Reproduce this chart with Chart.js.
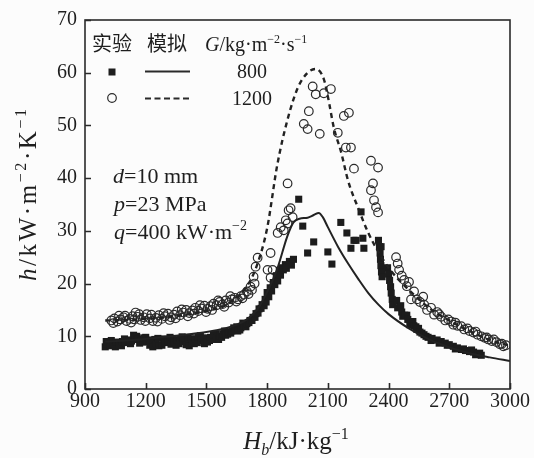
<!DOCTYPE html>
<html>
<head>
<meta charset="utf-8">
<script src="https://cdn.jsdelivr.net/npm/chart.js@4.4.0/dist/chart.umd.min.js"></script>
<style>
  html, body { margin: 0; padding: 0; background: #fcfcfc; }
  canvas { display: block; }
</style>
</head>
<body>
<canvas id="htcChart" width="534" height="458"></canvas>
<script>
// axis ticks
const hbTicks = [900, 1200, 1500, 1800, 2100, 2400, 2700, 3000];
const hTicks = [0, 10, 20, 30, 40, 50, 60, 70];

// legend texts
const legendHeads = ['实验', '模拟'];
const massFluxes = ['800', '1200'];

// simulation, G = 800
const sim800X = [1000, 1100, 1200, 1300, 1400, 1500, 1600, 1650, 1700, 1750, 1800, 1850, 1900, 1930, 1960, 2000, 2030, 2055, 2075, 2100, 2150, 2200, 2250, 2300, 2350, 2400, 2500, 2600, 2700, 2800, 2900, 3000];
const sim800H = [9.0, 9.2, 9.5, 9.9, 10.3, 10.8, 11.6, 12.2, 13.2, 15.0, 18.4, 22.8, 29.0, 31.6, 32.3, 32.5, 33.0, 33.4, 32.6, 30.7, 27.0, 23.8, 20.9, 18.2, 16.0, 14.2, 11.5, 9.4, 7.9, 6.8, 6.0, 5.3];

// simulation, G = 1200
const sim1200X = [1000, 1100, 1200, 1300, 1400, 1500, 1600, 1700, 1750, 1800, 1850, 1900, 1950, 2000, 2040, 2080, 2100, 2130, 2165, 2200, 2250, 2300, 2350, 2400, 2500, 2600, 2700, 2800, 2900, 3000];
const sim1200H = [13.0, 13.1, 13.3, 13.6, 14.1, 14.8, 16.0, 19.5, 23.5, 30.5, 42.5, 51.0, 57.0, 60.0, 60.7, 58.8, 55.5, 49.5, 45.0, 39.5, 34.3, 29.6, 26.0, 23.0, 18.8, 15.4, 13.0, 11.0, 9.3, 8.2];

// experiment, G = 800  [Hb, h]
const exp800 = [
  [1000, 8.0], [1005, 9.0], [1010, 8.6], [1025, 8.2], [1030, 9.2], [1040, 8.5], [1050, 8.0], [1055, 8.9],
  [1070, 8.4], [1080, 8.2], [1085, 9.0], [1095, 9.5], [1100, 8.8], [1115, 9.3], [1125, 8.6], [1130, 9.1],
  [1140, 10.2], [1145, 9.8], [1155, 10.0], [1160, 9.4], [1170, 8.7], [1175, 9.2], [1185, 8.9], [1190, 9.7],
  [1200, 9.8], [1205, 9.0], [1215, 9.3], [1220, 8.3], [1235, 8.0], [1245, 9.4], [1250, 8.6], [1260, 9.6],
  [1265, 8.2], [1280, 8.3], [1290, 9.5], [1295, 8.8], [1310, 9.2], [1320, 9.8], [1325, 8.5], [1335, 9.6],
  [1340, 8.9], [1350, 8.3], [1355, 9.3], [1365, 8.6], [1370, 9.6], [1380, 9.9], [1385, 9.0], [1395, 9.6],
  [1400, 8.4], [1410, 9.8], [1415, 8.2], [1425, 9.5], [1430, 8.8], [1440, 8.6], [1445, 9.5], [1455, 8.8],
  [1460, 9.9], [1470, 10.1], [1475, 9.2], [1485, 9.7], [1490, 8.6], [1500, 9.6], [1505, 8.9], [1515, 9.2],
  [1520, 9.8], [1530, 9.4], [1535, 10.3], [1545, 10.5], [1550, 9.6], [1560, 9.4], [1565, 10.0], [1575, 9.8],
  [1580, 10.5], [1590, 11.0], [1595, 10.2], [1605, 10.4], [1610, 10.8], [1620, 10.6], [1625, 11.0], [1635, 11.6],
  [1640, 11.3], [1650, 11.8], [1655, 11.0], [1665, 11.2], [1670, 11.6], [1680, 12.5], [1685, 12.0], [1695, 11.8],
  [1700, 12.4], [1710, 12.6], [1715, 13.0], [1725, 13.0], [1730, 13.6], [1740, 13.6], [1745, 14.3], [1755, 14.4],
  [1760, 15.2], [1770, 15.3], [1775, 16.0], [1785, 15.8], [1790, 17.0], [1795, 16.5], [1800, 18.3], [1808, 17.5],
  [1815, 19.2], [1822, 18.6], [1830, 20.2], [1838, 19.8], [1845, 21.5], [1852, 20.5], [1860, 22.5], [1866, 21.6],
  [1875, 23.0], [1880, 22.6], [1890, 23.6], [1895, 22.9], [1910, 24.2], [1920, 23.5], [1930, 24.6],
  [1956, 36.0], [1976, 30.9], [2000, 25.8], [2030, 27.9], [2100, 26.0], [2120, 23.7], [2164, 31.6], [2194, 29.6],
  [2214, 26.7], [2229, 28.2], [2239, 28.2], [2264, 33.6], [2273, 28.6], [2278, 26.7],
  [2350, 28.2], [2355, 27.0], [2358, 25.8], [2360, 24.6], [2362, 23.4], [2363, 27.0], [2365, 22.2], [2368, 21.3],
  [2395, 23.0], [2400, 21.8], [2405, 20.6], [2410, 19.4], [2413, 18.2], [2418, 17.0], [2420, 16.0],
  [2440, 16.8], [2445, 15.4], [2455, 15.6], [2460, 15.8], [2465, 14.6], [2470, 13.8], [2480, 14.0], [2490, 14.0],
  [2495, 13.2], [2505, 12.2], [2510, 12.6], [2520, 12.8], [2525, 12.0], [2535, 11.8], [2540, 11.3], [2548, 11.5],
  [2555, 10.8], [2565, 10.6], [2575, 10.3], [2585, 10.0], [2595, 9.8], [2610, 9.2], [2615, 9.6], [2640, 9.3],
  [2650, 8.7], [2660, 9.0], [2680, 8.7], [2690, 8.3], [2700, 8.4], [2720, 8.1], [2730, 7.6], [2740, 7.8],
  [2760, 7.5], [2770, 7.6], [2780, 7.3], [2800, 7.1], [2810, 7.4], [2820, 7.0], [2830, 6.5], [2840, 6.7],
  [2850, 6.8], [2858, 6.4]
];

// experiment, G = 1200  [Hb, h]
const exp1200 = [
  [1030, 13.0], [1040, 12.5], [1045, 13.4], [1060, 12.8], [1068, 13.9], [1075, 13.2], [1090, 13.6], [1098, 13.9],
  [1105, 12.9], [1120, 13.3], [1128, 12.6], [1135, 13.8], [1143, 13.2], [1150, 14.5], [1160, 13.7], [1168, 14.2],
  [1175, 13.1], [1190, 13.6], [1198, 12.9], [1205, 14.2], [1220, 13.4], [1228, 14.1], [1235, 12.9], [1250, 13.5],
  [1258, 12.8], [1265, 14.0], [1280, 13.3], [1288, 14.4], [1295, 13.8], [1310, 14.3], [1318, 13.1], [1325, 13.6],
  [1340, 14.1], [1348, 13.4], [1355, 14.7], [1370, 14.0], [1378, 15.1], [1385, 14.5], [1400, 15.0], [1408, 13.8],
  [1415, 14.4], [1430, 14.9], [1438, 14.3], [1445, 15.4], [1460, 14.8], [1468, 15.9], [1475, 15.3], [1490, 15.8],
  [1498, 14.6], [1505, 15.2], [1520, 15.7], [1528, 15.0], [1535, 16.2], [1550, 15.9], [1558, 16.8], [1565, 16.5],
  [1580, 16.1], [1588, 15.6], [1595, 16.8], [1610, 16.4], [1618, 17.6], [1625, 17.0], [1640, 17.3], [1648, 16.6],
  [1655, 17.0], [1670, 17.6], [1678, 17.2], [1685, 17.9], [1700, 18.5], [1708, 18.0], [1718, 19.4], [1725, 18.8],
  [1733, 21.3], [1738, 20.0], [1743, 23.2], [1753, 24.9], [1802, 22.6], [1817, 21.1], [1817, 25.8], [1827, 22.6],
  [1852, 29.6], [1867, 30.7], [1882, 30.1], [1892, 32.0], [1901, 31.4], [1906, 33.9], [1916, 34.3], [1926, 32.6],
  [1901, 39.0],
  [1981, 50.3], [2000, 49.3], [2006, 52.7], [2025, 57.4], [2040, 55.9], [2060, 48.4], [2080, 56.1], [2115, 56.9],
  [2149, 48.6], [2179, 51.8], [2204, 52.4], [2189, 45.8], [2214, 45.8], [2229, 41.8], [2313, 43.3], [2348, 42.0],
  [2323, 39.0], [2313, 37.7], [2328, 35.8], [2338, 34.5], [2348, 33.5],
  [2437, 25.0], [2445, 23.8], [2452, 22.6], [2465, 21.5], [2477, 20.7], [2490, 19.5], [2501, 20.3], [2511, 17.0],
  [2526, 18.5], [2540, 17.0], [2555, 16.5], [2571, 17.5], [2576, 16.0], [2590, 15.0], [2610, 15.4], [2625, 14.1],
  [2640, 14.6], [2650, 14.2], [2660, 13.7], [2680, 13.0], [2695, 13.2], [2710, 12.8], [2720, 12.2], [2730, 12.6],
  [2740, 12.0], [2759, 11.9], [2774, 11.3], [2790, 11.5], [2800, 11.0], [2819, 10.7], [2830, 10.9], [2840, 10.3],
  [2858, 10.0], [2875, 9.7], [2885, 9.8], [2893, 9.4], [2910, 9.1], [2920, 9.4], [2933, 8.9], [2950, 8.5],
  [2960, 8.6], [2967, 8.1], [2980, 8.3]
];

const SERIF = '"Liberation Serif", "Times New Roman", serif';
const CJK = '"Noto Sans CJK SC", sans-serif';
const INK = '#1e1e1e';

function pairs(xs, ys) { return xs.map((x, i) => ({ x: x, y: ys[i] })); }
function points(list) { return list.map(p => ({ x: p[0], y: p[1] })); }

function richFont(style, size) {
  const small = Math.round(size * 0.62);
  if (style === 'i') return 'italic ' + size + 'px ' + SERIF;
  if (style === 'isub') return 'italic ' + small + 'px ' + SERIF;
  if (style === 'sup' || style === 'sub') return small + 'px ' + SERIF;
  if (style === 'cjk') return size + 'px ' + CJK;
  return size + 'px ' + SERIF;
}

// draws runs of [text, style] on one baseline; optional width stretches the letter spacing
function drawRich(ctx, runs, x, y, opts) {
  const size = opts.size || 20;
  let natural = 0, count = 0;
  runs.forEach(([t, s]) => {
    ctx.font = richFont(s, size);
    for (const ch of t) { natural += ctx.measureText(ch).width; count++; }
  });
  const spacing = opts.width ? (opts.width - natural) / Math.max(1, count - 1) : 0;
  const total = natural + spacing * (count - 1);
  let cx = opts.align === 'center' ? x - total / 2 : opts.align === 'right' ? x - total : x;
  ctx.textAlign = 'left';
  ctx.textBaseline = 'alphabetic';
  ctx.fillStyle = INK;
  runs.forEach(([t, s]) => {
    ctx.font = richFont(s, size);
    const dy = s === 'sup' ? -size * 0.42 : (s === 'sub' || s === 'isub') ? size * 0.22 : 0;
    for (const ch of t) {
      ctx.fillText(ch, cx, y + dy);
      cx += ctx.measureText(ch).width + spacing;
    }
  });
}

const decorations = {
  id: 'decorations',
  beforeDraw(chart) {
    const ctx = chart.ctx;
    ctx.save();
    ctx.fillStyle = '#fcfcfc';
    ctx.fillRect(0, 0, chart.width, chart.height);
    ctx.restore();
  },
  afterDraw(chart) {
    const ctx = chart.ctx;
    const a = chart.chartArea;
    const xs = chart.scales.x, ys = chart.scales.y;
    ctx.save();

    // frame and inward ticks
    ctx.strokeStyle = '#2a2a2a';
    ctx.lineWidth = 1.6;
    ctx.strokeRect(a.left, a.top, a.right - a.left, a.bottom - a.top);
    ctx.beginPath();
    xs.ticks.forEach(t => {
      const px = Math.round(xs.getPixelForValue(t.value)) + 0.5;
      ctx.moveTo(px, a.bottom); ctx.lineTo(px, a.bottom - 6);
    });
    ys.ticks.forEach(t => {
      const py = Math.round(ys.getPixelForValue(t.value)) + 0.5;
      ctx.moveTo(a.left, py); ctx.lineTo(a.left + 6, py);
    });
    ctx.stroke();

    // legend table
    drawRich(ctx, [[legendHeads[0], 'cjk']], 92, 51, { size: 20 });
    drawRich(ctx, [[legendHeads[1], 'cjk']], 147, 51, { size: 20 });
    drawRich(ctx, [['G', 'i'], ['/kg·m', ''], ['−2', 'sup'], ['·s', ''], ['−1', 'sup']], 205, 51, { size: 20 });
    ctx.fillStyle = INK;
    ctx.fillRect(108.5, 68.5, 7, 7);
    ctx.strokeStyle = '#2a2a2a';
    ctx.lineWidth = 1.2;
    ctx.beginPath(); ctx.arc(112, 98, 4.3, 0, Math.PI * 2); ctx.stroke();
    ctx.lineWidth = 2.2;
    ctx.beginPath(); ctx.moveTo(145, 71.5); ctx.lineTo(190, 71.5); ctx.stroke();
    ctx.setLineDash([6, 3.5]);
    ctx.beginPath(); ctx.moveTo(145, 98.5); ctx.lineTo(190, 98.5); ctx.stroke();
    ctx.setLineDash([]);
    drawRich(ctx, [[massFluxes[0], '']], 252, 78, { size: 20, align: 'center' });
    drawRich(ctx, [[massFluxes[1], '']], 252, 105, { size: 20, align: 'center' });

    // operating conditions
    drawRich(ctx, [['d', 'i'], ['=10 mm', '']], 113, 183, { size: 22 });
    drawRich(ctx, [['p', 'i'], ['=23 MPa', '']], 114, 211, { size: 22 });
    drawRich(ctx, [['q', 'i'], ['=400 kW·m', ''], ['−2', 'sup']], 114, 239, { size: 22 });

    // axis titles
    drawRich(ctx, [['H', 'i'], ['b', 'isub'], ['/kJ·kg', ''], ['−1', 'sup']], 296, 449, { size: 25, align: 'center' });
    ctx.save();
    ctx.translate(36, 195);
    ctx.rotate(-Math.PI / 2);
    drawRich(ctx, [['h', 'i'], ['/kW·m', ''], ['−2', 'sup'], ['·K', ''], ['−1', 'sup']], 0, 0, { size: 25, align: 'center', width: 172 });
    ctx.restore();

    ctx.restore();
  }
};

new Chart(document.getElementById('htcChart'), {
  type: 'scatter',
  data: {
    datasets: [
      {
        label: '模拟 800',
        data: pairs(sim800X, sim800H),
        showLine: true,
        borderColor: '#222',
        borderWidth: 2,
        pointRadius: 0,
        cubicInterpolationMode: 'monotone'
      },
      {
        label: '模拟 1200',
        data: pairs(sim1200X, sim1200H),
        showLine: true,
        borderColor: '#222',
        borderWidth: 2.4,
        borderDash: [5, 4],
        pointRadius: 0,
        cubicInterpolationMode: 'monotone'
      },
      {
        label: '实验 800',
        data: points(exp800),
        pointStyle: 'rect',
        pointRadius: 5,
        backgroundColor: '#1c1c1c',
        borderWidth: 0
      },
      {
        label: '实验 1200',
        data: points(exp1200),
        pointStyle: 'circle',
        pointRadius: 4.3,
        backgroundColor: 'rgba(0,0,0,0)',
        borderColor: '#2a2a2a',
        borderWidth: 1.2
      }
    ]
  },
  options: {
    responsive: false,
    devicePixelRatio: 1,
    animation: false,
    events: [],
    layout: { padding: { top: 17, right: 24, left: 0, bottom: 0 } },
    plugins: { legend: { display: false }, tooltip: { enabled: false } },
    scales: {
      x: {
        type: 'linear',
        min: 900,
        max: 3000,
        afterBuildTicks: s => { s.ticks = hbTicks.map(v => ({ value: v })); },
        afterFit: s => { s.height = 69; },
        grid: { display: false, drawTicks: false },
        border: { display: false },
        ticks: { padding: 1, color: INK, font: { family: SERIF, size: 20 }, maxRotation: 0, callback: v => String(v) }
      },
      y: {
        type: 'linear',
        min: 0,
        max: 70,
        afterBuildTicks: s => { s.ticks = hTicks.map(v => ({ value: v })); },
        afterFit: s => { s.width = 85; },
        grid: { display: false, drawTicks: false },
        border: { display: false },
        ticks: { padding: 8, color: INK, font: { family: SERIF, size: 20 }, callback: v => String(v) }
      }
    }
  },
  plugins: [decorations]
});
</script>
</body>
</html>
